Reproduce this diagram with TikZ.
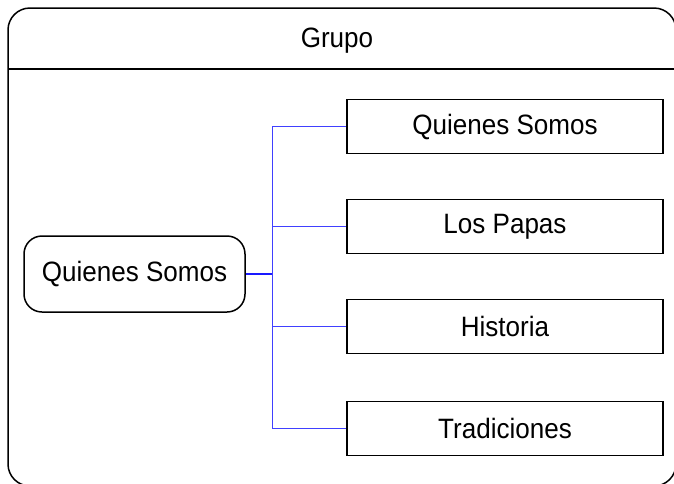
\documentclass[tikz,border=0pt]{standalone}
\usepackage{fontspec}
\setmainfont{Liberation Sans}[FakeStretch=0.93]
\begin{document}
\begin{tikzpicture}[x=1pt,y=-1pt,
  lbl/.style={font=\fontsize{28}{32}\selectfont},
  leaf/.style={draw=black,line width=1.5pt,minimum width=316pt,minimum height=54pt,inner sep=0pt,lbl},
  root/.style={draw=black,line width=1.5pt,rounded corners=18pt,minimum width=221pt,minimum height=76pt,inner sep=0pt,lbl},
  conn/.style={draw=blue!75,line width=1pt},
  stem/.style={draw=blue!90,line width=2pt}]
\useasboundingbox (0,0) rectangle (674,483);
\draw[line width=1.5pt,rounded corners=22pt] (8,8) rectangle (676,486);
\draw[line width=1.5pt] (8,69) -- (676,69);
\node[lbl] (title) at (337,41) {Grupo};
\node[root] (r) at (134.5,274) {Quienes Somos};
\node[leaf] (a) at (505,126.5) {Quienes Somos};
\node[leaf] (b) at (505,226.5) {Los Papas};
\node[leaf] (c) at (505,326.5) {Historia};
\node[leaf] (d) at (505,428.5) {Tradiciones};
\coordinate (j) at (272.5,274);
\draw[stem] (r.east) -- (j);
\draw[conn] (a.west) -| (j);
\draw[conn] (b.west) -| (j);
\draw[conn] (c.west) -| (j);
\draw[conn] (d.west) -| (j);
\end{tikzpicture}
\end{document}
